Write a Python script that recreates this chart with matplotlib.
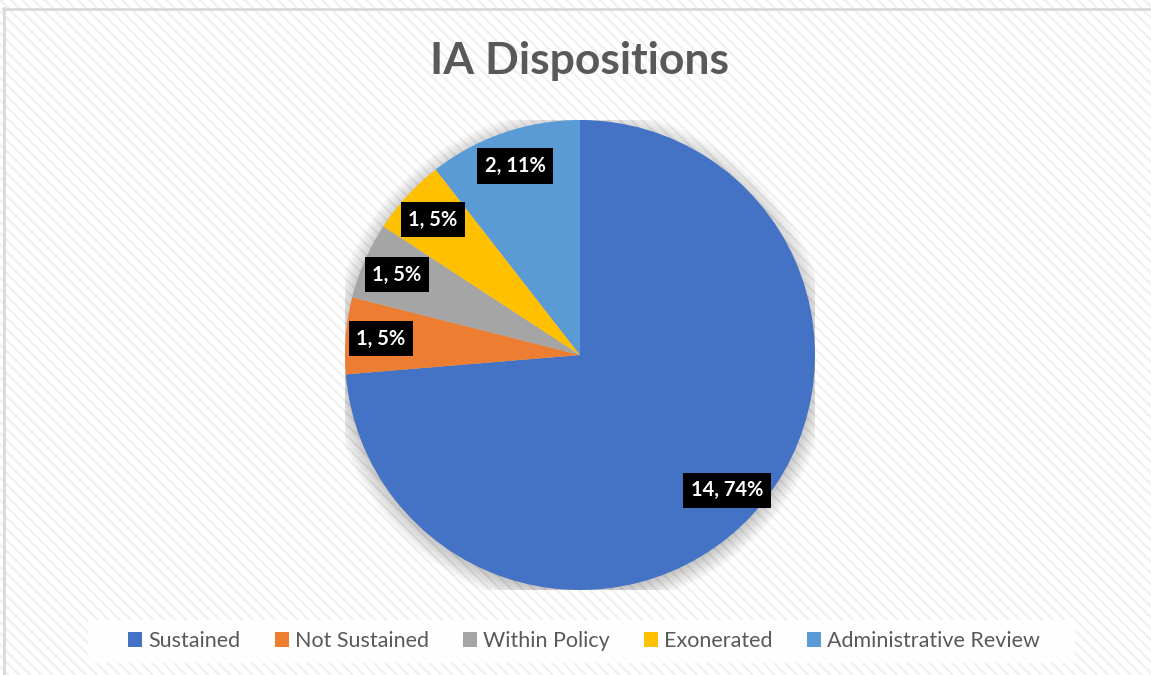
import matplotlib.pyplot as plt
import matplotlib.patches as mpatches
import numpy as np

# ── Data ──────────────────────────────────────────────────────────────────────
categories = ["Sustained", "Not Sustained", "Within Policy", "Exonerated", "Administrative Review"]
counts     = [14, 1, 1, 1, 2]
colors     = ["#4472C4", "#ED7D31", "#A5A5A5", "#FFC000", "#5B9BD5"]

W, H = 1151, 675
plt.rcParams["font.family"] = ["Lato", "DejaVu Sans"]
plt.rcParams["hatch.linewidth"] = 1.6

fig = plt.figure(figsize=(W / 100, H / 100), dpi=100)

# ── Background: faint diagonal stripes + left/top border ──────────────────────
bg = mpatches.Rectangle((0, 0), 1, 1, transform=fig.transFigure, facecolor="white",
                        edgecolor="#f0f0f0", hatch="\\\\\\", linewidth=0, zorder=-10)
fig.patches.append(bg)
fig.add_artist(plt.Line2D([3.5 / W, 3.5 / W], [0, 1 - 8 / H], color="#d9d9d9", lw=2,
                          transform=fig.transFigure))
fig.add_artist(plt.Line2D([3 / W, 1], [1 - 8.5 / H, 1 - 8.5 / H], color="#d9d9d9", lw=2,
                          transform=fig.transFigure))

# ── Pie ───────────────────────────────────────────────────────────────────────
cx, cy, r = 580, 355, 235
ax = fig.add_axes([(cx - r) / W, (H - cy - r) / H, 2 * r / W, 2 * r / H])
ax.set_facecolor("none")

# soft shadow around the pie
for k in range(20):
    ax.add_patch(mpatches.Circle((0, -0.015), 0.985 + 0.0045 * k, facecolor="black",
                                 alpha=0.011, lw=0, zorder=0))

wedges, _ = ax.pie(counts, colors=colors, startangle=90, counterclock=False,
                   radius=1.0, wedgeprops=dict(linewidth=0, zorder=2))

total = sum(counts)
for w, n in zip(wedges, counts):
    ang = np.deg2rad((w.theta1 + w.theta2) / 2)
    pct = round(100 * n / total)
    ax.text(0.85 * np.cos(ang), 0.85 * np.sin(ang), f"{n}, {pct}%", ha="center", va="center",
            color="white", fontsize=14.5, fontweight="bold", zorder=5,
            bbox=dict(boxstyle="square,pad=0.38", facecolor="black", edgecolor="none"))

ax.set_xlim(-1, 1)
ax.set_ylim(-1, 1)
ax.set_aspect("auto")
ax.axis("off")

# ── Title ─────────────────────────────────────────────────────────────────────
fig.text(580 / W, 1 - 61 / H, "IA Dispositions", ha="center", va="center",
         fontsize=32, fontweight="bold", color="#595959")

# ── Legend ────────────────────────────────────────────────────────────────────
legbox = mpatches.Rectangle((88 / W, 1 - 663 / H), 987 / W, 43 / H, transform=fig.transFigure,
                            facecolor="white", edgecolor="none", alpha=0.92, zorder=1)
fig.patches.append(legbox)

handles = [mpatches.Patch(facecolor=c, edgecolor="none", label=l) for c, l in zip(colors, categories)]
leg = fig.legend(handles=handles, loc="center", bbox_to_anchor=(584 / W, 1 - 641 / H),
                 ncol=5, frameon=False, fontsize=15.5, handlelength=0.65, handleheight=0.65,
                 handletextpad=0.28, columnspacing=1.6, borderpad=0.2)
for t in leg.get_texts():
    t.set_color("#595959")

fig.savefig("out.png", dpi=100)
